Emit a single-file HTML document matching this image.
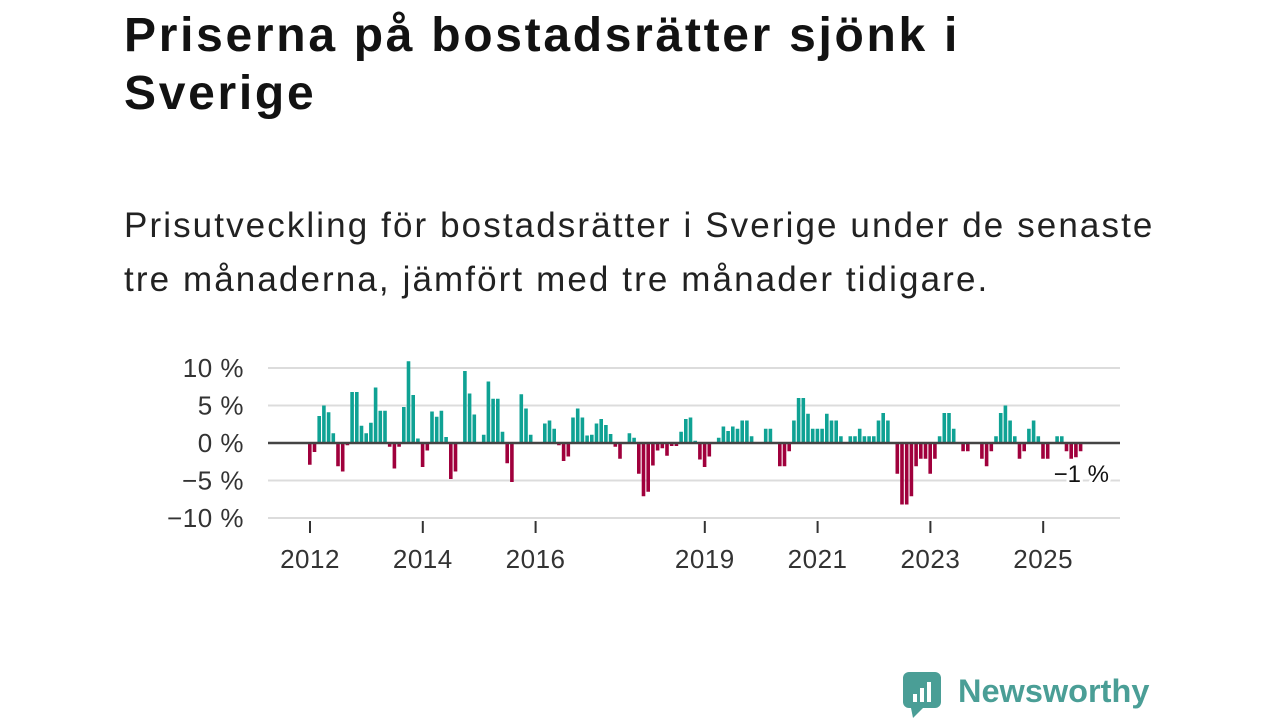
<!DOCTYPE html>
<html><head><meta charset="utf-8">
<style>
body{margin:0;width:1280px;height:720px;background:#fff;font-family:"Liberation Sans","DejaVu Sans",sans-serif;color:#111;overflow:hidden;position:relative}
h1{position:absolute;left:124px;top:7px;margin:0;font-size:48px;line-height:58px;font-weight:bold;color:#121212;width:1100px;letter-spacing:2.7px}
.sub{position:absolute;left:124px;top:199px;margin:0;font-size:35px;line-height:54px;color:#222;width:1150px;letter-spacing:2.1px}
svg{position:absolute;left:0;top:0}
</style></head><body>
<h1>Priserna på bostadsrätter sjönk i<br>Sverige</h1>
<p class="sub">Prisutveckling för bostadsrätter i Sverige under de senaste<br>tre månaderna, jämfört med tre månader tidigare.</p>
<svg id="chart" width="1280" height="720"></svg>
<div style="position:absolute;left:903px;top:670px;width:260px;height:50px">
<svg width="40" height="50" style="position:absolute;left:0;top:0"><rect x="0" y="2" width="38" height="36" rx="6" fill="#4a9e96"/><polygon points="8,38 20,38 10,48" fill="#4a9e96"/><rect x="10" y="24" width="4" height="8" fill="#fff"/><rect x="17" y="18" width="4" height="14" fill="#fff"/><rect x="24" y="12" width="4" height="20" fill="#fff"/></svg>
<span style="position:absolute;left:55px;top:1px;font-size:32.5px;font-weight:bold;color:#4a9e96;line-height:40px">Newsworthy</span>
</div>
<script>
const values=[-2.9,-1.2,3.6,5.0,4.1,1.3,-3.1,-3.8,-0.3,6.8,6.8,2.3,
1.3,2.7,7.4,4.3,4.3,-0.5,-3.4,-0.5,4.8,10.9,6.4,0.6,
-3.2,-1.0,4.2,3.5,4.3,0.8,-4.8,-3.8,0,9.6,6.6,3.8,
0,1.1,8.2,5.9,5.9,1.5,-2.7,-5.2,0,6.5,4.6,1.1,
0,0,2.6,3.0,1.9,-0.3,-2.4,-1.8,3.4,4.6,3.4,1.0,
1.1,2.6,3.2,2.4,1.2,-0.5,-2.1,0,1.3,0.7,-4.1,-7.1,
-6.5,-3.0,-1.0,-0.7,-1.7,-0.4,-0.4,1.5,3.2,3.4,0.3,-2.2,
-3.2,-1.8,0,0.7,2.2,1.6,2.2,1.9,3.0,3.0,0.9,0,
0,1.9,1.9,0,-3.1,-3.1,-1.1,3.0,6.0,6.0,3.9,1.9,
1.9,1.9,3.9,3.0,3.0,0.9,0,0.9,0.9,1.9,0.9,0.9,
0.9,3.0,4.0,3.0,0,-4.1,-8.2,-8.2,-7.1,-3.1,-2.1,-2.1,
-4.1,-2.1,0.9,4.0,4.0,1.9,0,-1.1,-1.1,0,0,-2.1,
-3.1,-1.1,0.9,4.0,5.0,3.0,0.9,-2.1,-1.1,1.9,3.0,0.9,
-2.1,-2.1,0,0.9,0.9,-1.1,-2.1,-1.9,-1.1];
const startYear=2012;
const yTicks=[10,5,0,-5,-10];
const yTickLabels=["10 %","5 %","0 %","\u22125 %","\u221210 %"];
const xTickYears=[2012,2014,2016,2019,2021,2023,2025];
const lastLabel="\u22121 %";
const svg=document.getElementById('chart');
const NS='http://www.w3.org/2000/svg';
const X0=310,PER_YEAR=56.4;
const xm=i=>X0+i*PER_YEAR/12;
const xy=yr=>X0+(yr-startYear)*PER_YEAR;
const y=v=>443-v*7.5;
function mk(t,a){const e=document.createElementNS(NS,t);for(const k in a)e.setAttribute(k,a[k]);svg.appendChild(e);return e;}
yTicks.forEach((t,k)=>{
 if(t!==0){const l=mk('line',{x1:268,x2:1120,y1:y(t),y2:y(t),stroke:'#dcdcdc','stroke-width':2});
 
 }
 const tx=mk('text',{x:244,y:y(t)+9,'text-anchor':'end','font-size':26,fill:'#333','letter-spacing':'0.5','font-family':'Liberation Sans, sans-serif'});
 tx.textContent=yTickLabels[k];
 
 
});
values.forEach((v,i)=>{
 if(v===0)return;
 const r=mk('rect',{x:xm(i)-2,width:3.6,y:v>0?y(v):y(0),height:Math.abs(y(v)-y(0)),fill:v>0?'#0fa294':'#a0003c'});
 
 
});
const zl=mk('line',{x1:268,x2:1120,y1:y(0),y2:y(0),stroke:'#444','stroke-width':2.5});


xTickYears.forEach(yr=>{
 const t=mk('line',{x1:xy(yr),x2:xy(yr),y1:521,y2:533,stroke:'#333','stroke-width':2});
 
 
 const tx=mk('text',{x:xy(yr),y:568,'text-anchor':'middle','font-size':26,fill:'#333','letter-spacing':'0.5','font-family':'Liberation Sans, sans-serif'});
 tx.textContent=yr;
 
 
});
const lab=mk('text',{x:1109,y:482,'text-anchor':'end','font-size':24,fill:'#111',stroke:'#fff','stroke-width':6,'paint-order':'stroke','font-family':'Liberation Sans, sans-serif'});
lab.textContent=lastLabel;


</script>
</body></html>
